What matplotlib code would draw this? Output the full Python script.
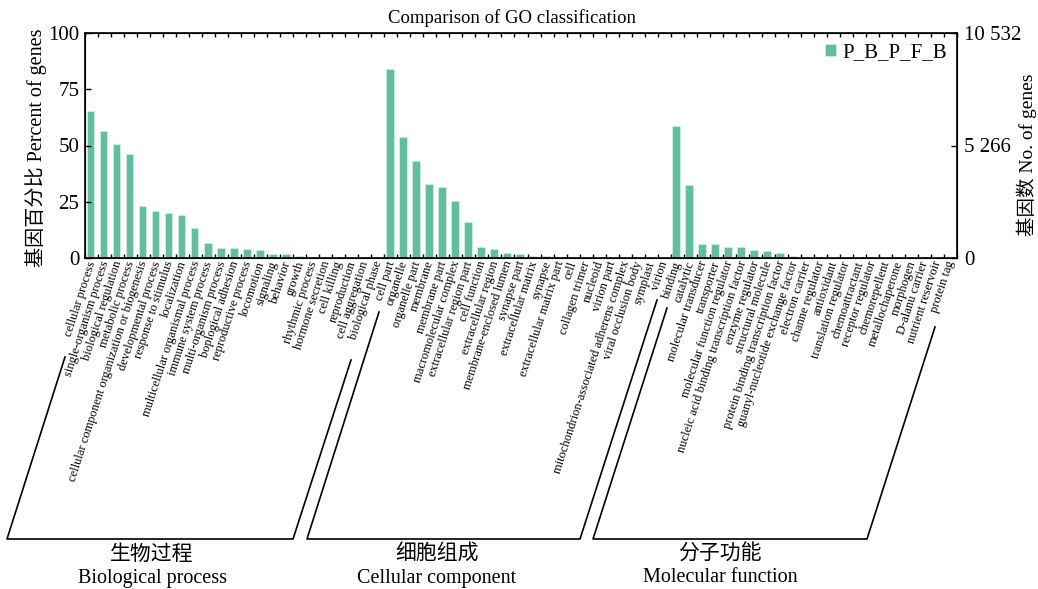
import matplotlib
matplotlib.use('Agg')
import matplotlib.pyplot as plt
from matplotlib.lines import Line2D

plt.rcParams['font.family'] = ['Liberation Serif', 'Noto Sans CJK SC']

#######################
###   Data          ###
#######################

bp_terms = ['cellular process', 'single-organism process', 'biological regulation',
            'metabolic process', 'cellular component organization or biogenesis',
            'developmental process', 'response to stimulus', 'localization',
            'multicellular organismal process', 'immune system process',
            'multi-organism process', 'boplogical adhesion', 'reproductive process',
            'locomotion', 'signaling', 'behavior', 'growth', 'rhythmic process',
            'hormone secretion', 'cell killing', 'reproduction', 'cell aggregation',
            'biological phase']
bp_pct = [65.4, 56.3, 50.7, 46.1, 23.0, 21.1, 19.9, 19.0, 13.5, 6.5, 4.3, 4.3, 4.0,
          3.7, 1.6, 1.6, 0.9, 0.6, 0.1, 0.05, 0.05, 0.05, 0.05]

cc_terms = ['cell part', 'organelle', 'organelle part', 'membrane', 'membrane part',
            'macromolecular complex', 'extracellular region part', 'cell function',
            'extracellular region', 'membrane-enclosed lumen', 'synapse part',
            'extracellular matrix', 'synapse', 'extracellular matrix part', 'cell',
            'collagen trimer', 'nucleoid', 'virion part',
            'mitochondrion-associated adherens complex', 'viral occlusion body',
            'symplast', 'virion']
cc_pct = [84.0, 53.6, 43.1, 32.8, 31.6, 25.4, 15.8, 5.1, 4.2, 2.4, 1.6, 0.7, 0.7,
          0.3, 0.15, 0.05, 0.05, 0.05, 0.05, 0.05, 0.05, 0.05]

mf_terms = ['binding', 'catalytic', 'molecular transducer', 'transporter',
            'molecular function regulator', 'nucleic acid binding transcription factor',
            'enzyme regulator', 'structural molecule',
            'protein binding transcription factor', 'guanyl-nucleotide exchange factor',
            'electron carrier', 'channe regulator', 'antioxidant',
            'translation regulator', 'chemoattractant', 'receptor regulator',
            'chemorepellent', 'metallochaperone', 'morphogen', 'D-alanu carrier',
            'nutrient reservoir', 'protein tag']
mf_pct = [58.8, 32.4, 6.4, 6.1, 5.1, 4.9, 3.6, 3.1, 2.1, 1.0, 0.3, 0.15, 0.05,
          0.05, 0.05, 0.05, 0.05, 0.05, 0.05, 0.05, 0.05, 0.05]

total_genes = 10532
right_ticks = [0, 5266, 10532]
right_labels = ['0', '5 266', '10 532']
left_ticks = [0, 25, 50, 75, 100]

groups = [('生物过程', 'Biological process'),
          ('细胞组成', 'Cellular component'),
          ('分子功能', 'Molecular function')]

terms = bp_terms + cc_terms + mf_terms
pct = bp_pct + cc_pct + mf_pct
n = len(terms)

#######################
###   Plotting      ###
#######################

W, H = 1038, 589
fig = plt.figure(figsize=(W / 100, H / 100), dpi=100)

def fx(px):
    return px / W

def fy(py):
    return 1 - py / H

ax = fig.add_axes([fx(85), fy(258), fx(957) - fx(85), fy(33) - fy(258)])

xpos = [i + 0.42 for i in range(n)]
ax.bar(xpos, pct, width=0.6, color='#5fbf9f', edgecolor='#e3f3ed', linewidth=0.4,
       label='P_B_P_F_B')
ax.set_xlim(0, n)
ax.set_ylim(0, 100)
ax.set_yticks(left_ticks)
ax.tick_params(axis='y', labelsize=15, direction='in', length=4, width=1, pad=4)
ax.set_xticks(range(n + 1))
ax.set_xticklabels([])
ax.tick_params(axis='x', direction='in', length=3, width=1, top=True, bottom=True)

for i, t in enumerate(terms):
    ax.text(i + 0.55, -1.5, t, rotation=72, rotation_mode='anchor', ha='right',
            va='center', fontsize=9, transform=ax.transData)

for s in ax.spines.values():
    s.set_linewidth(1.2)

ax2 = ax.twinx()
ax2.set_ylim(0, total_genes)
ax2.set_yticks(right_ticks)
ax2.set_yticklabels(right_labels)
ax2.tick_params(axis='y', labelsize=15, direction='in', length=4, width=1, pad=5)

# title and axis titles placed like in the reference
fig.text(fx(512), fy(18), 'Comparison of GO classification', ha='center',
         va='center', fontsize=13.5)
fig.text(fx(36), fy(148), '基因百分比 Percent of genes', rotation=90,
         ha='center', va='center', fontsize=14.5)
fig.text(fx(1027), fy(155), '基因数 No. of genes', rotation=90,
         ha='center', va='center', fontsize=14)

leg = ax.legend(loc='upper right', frameon=False, fontsize=15, handlelength=0.5,
                handleheight=0.5, handletextpad=0.3, borderaxespad=0.1)

# group brackets below the labels (pixel coords of the reference)
brackets = [[(65, 357), (7, 539), (293, 539), (351, 360)],
            [(379, 312), (307, 539), (580, 539), (657, 300)],
            [(667, 308), (593, 539), (867, 539), (935, 327)]]
for pts in brackets:
    fig.add_artist(Line2D([fx(p[0]) for p in pts], [fy(p[1]) for p in pts],
                          transform=fig.transFigure, color='black', lw=1.2))

group_x = [152, 437, 720]
for (zh, en), gx in zip(groups, group_x):
    fig.text(fx(gx), fy(555), zh, ha='center', va='center', fontsize=15)
    fig.text(fx(gx), fy(578), en, ha='center', va='center', fontsize=14.5)

plt.savefig('out.png', dpi=100)
